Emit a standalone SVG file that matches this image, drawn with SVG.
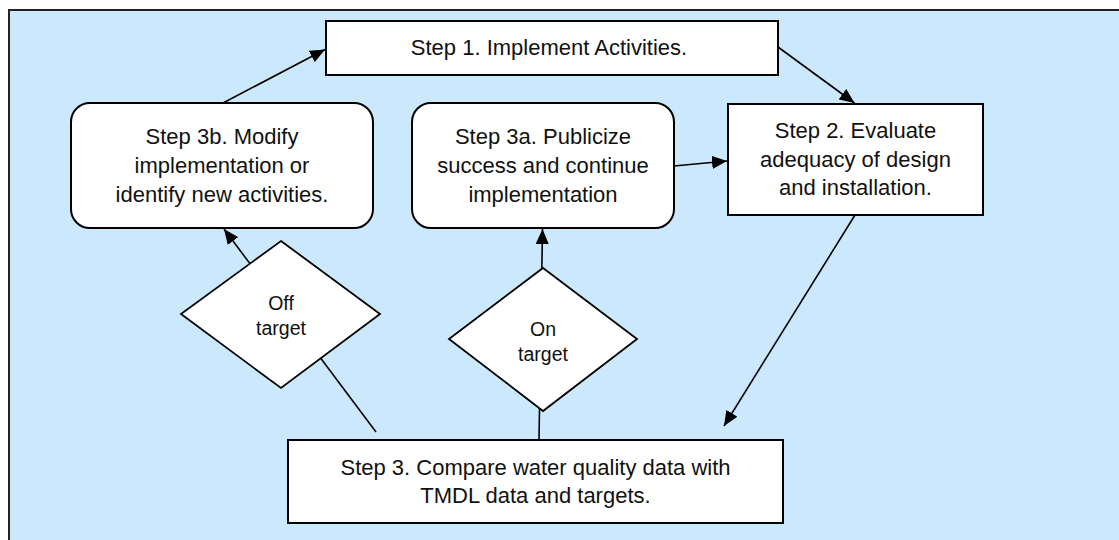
<svg xmlns="http://www.w3.org/2000/svg" width="1119" height="540" viewBox="0 0 1119 540">
  <style>
    .box { fill: #ffffff; stroke: #000000; stroke-width: 2; }
    .dia { fill: #ffffff; stroke: #000000; stroke-width: 1.8; }
    .conn { stroke: #000000; stroke-width: 1.6; fill: none; }
    .t { font-family: "Liberation Sans", Arial, sans-serif; font-size: 22px; fill: #111111; text-anchor: middle; }
    .td { font-family: "Liberation Sans", Arial, sans-serif; font-size: 19.5px; fill: #111111; text-anchor: middle; }
  </style>
  <defs>
    <marker id="arrow" markerUnits="userSpaceOnUse" markerWidth="15" markerHeight="13" refX="15" refY="6.5" orient="auto">
      <path d="M0,0 L15,6.5 L0,13 z" fill="#000000"/>
    </marker>
  </defs>

  <rect x="0" y="0" width="1119" height="540" fill="#ffffff"/>
  <rect id="background" x="9" y="10" width="1130" height="550" fill="#CCE8FD" stroke="#222222" stroke-width="2"/>

  <g id="connectors">
    <line class="conn" x1="223" y1="103" x2="325" y2="49.5" marker-end="url(#arrow)"/>
    <line class="conn" x1="778" y1="47" x2="854.5" y2="103" marker-end="url(#arrow)"/>
    <line class="conn" x1="674" y1="166" x2="727" y2="161" marker-end="url(#arrow)"/>
    <line class="conn" x1="855" y1="215" x2="724" y2="426" marker-end="url(#arrow)"/>
    <line class="conn" x1="376" y1="432" x2="224" y2="229" marker-end="url(#arrow)"/>
    <line class="conn" x1="539" y1="440" x2="542.5" y2="229" marker-end="url(#arrow)"/>
  </g>

  <g id="step1">
    <rect class="box" x="326" y="21" width="452" height="54"/>
    <text class="t" x="549" y="54.5">Step 1. Implement Activities.</text>
  </g>

  <g id="step3b">
    <rect class="box" x="71" y="103" width="302" height="125" rx="19" ry="19"/>
    <text class="t" x="222" y="144">Step 3b. Modify</text>
    <text class="t" x="222" y="173">implementation or</text>
    <text class="t" x="222" y="202">identify new activities.</text>
  </g>

  <g id="step3a">
    <rect class="box" x="412" y="103" width="262" height="125" rx="19" ry="19"/>
    <text class="t" x="543" y="144">Step 3a. Publicize</text>
    <text class="t" x="543" y="173">success and continue</text>
    <text class="t" x="543" y="202">implementation</text>
  </g>

  <g id="step2">
    <rect class="box" x="728" y="104" width="255" height="111"/>
    <text class="t" x="855.5" y="138">Step 2. Evaluate</text>
    <text class="t" x="855.5" y="166.5">adequacy of design</text>
    <text class="t" x="855.5" y="195">and installation.</text>
  </g>

  <g id="offtarget">
    <polygon class="dia" points="281,241 380,314 281,388 181,314"/>
    <text class="td" x="281" y="310">Off</text>
    <text class="td" x="281" y="335">target</text>
  </g>

  <g id="ontarget">
    <polygon class="dia" points="543,268 637,339 543,411 449,339"/>
    <text class="td" x="543" y="335.5">On</text>
    <text class="td" x="543" y="360.5">target</text>
  </g>

  <g id="step3">
    <rect class="box" x="288" y="440" width="495" height="83"/>
    <text class="t" x="535.5" y="474.5">Step 3. Compare water quality data with</text>
    <text class="t" x="535.5" y="503">TMDL data and targets.</text>
  </g>
</svg>
